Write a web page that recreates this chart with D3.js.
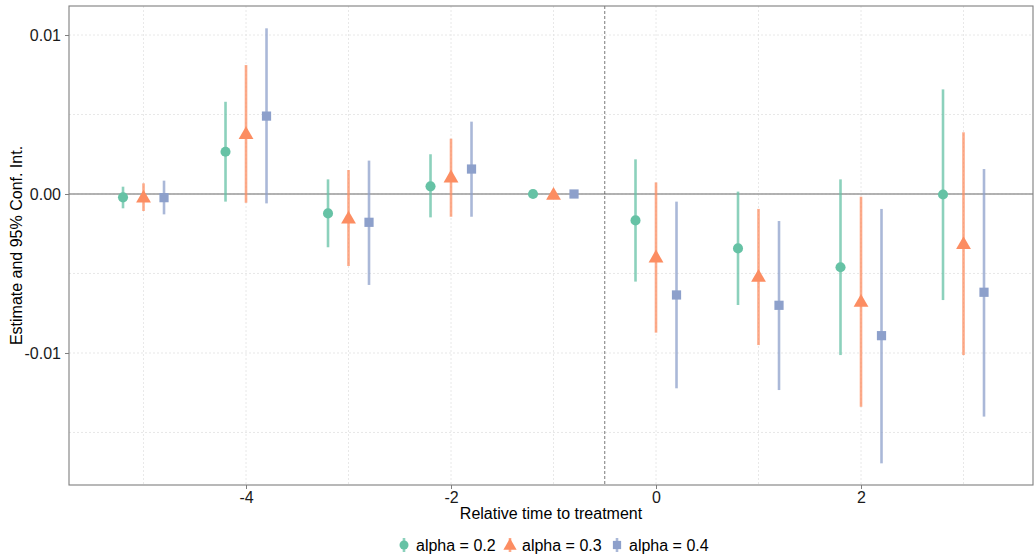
<!DOCTYPE html>
<html><head><meta charset="utf-8">
<script src="https://cdn.jsdelivr.net/npm/d3@7"></script>
<style>body{margin:0;background:#fff}svg{display:block;font-family:"Liberation Sans",Arial,sans-serif}</style>
</head><body><svg id="c" width="1034" height="554"></svg>
<script>
const times = [-5, -4, -3, -2, -1, 0, 1, 2, 3];
const seriesNames = ["alpha = 0.2", "alpha = 0.3", "alpha = 0.4"];
const est02 = [-0.00021, 0.00266, -0.00122, 0.00048, 0, -0.00166, -0.00342, -0.00461, -0.00003];
const lo02  = [-0.0009, -0.00048, -0.00335, -0.00147, 0, -0.00551, -0.00698, -0.01013, -0.00667];
const hi02  = [0.00046, 0.0058, 0.00092, 0.0025, 0, 0.00218, 0.00015, 0.00092, 0.00658];
const est03 = [-0.00017, 0.00382, -0.00149, 0.00109, 0, -0.00394, -0.00516, -0.00673, -0.0031];
const lo03  = [-0.00107, -0.00055, -0.00453, -0.00143, 0, -0.00872, -0.0095, -0.01338, -0.01013];
const hi03  = [0.00067, 0.00811, 0.00151, 0.00348, 0, 0.00073, -0.00094, -0.00017, 0.00388];
const est04 = [-0.00023, 0.0049, -0.00178, 0.00157, 0, -0.00635, -0.007, -0.00891, -0.00618];
const lo04  = [-0.00128, -0.00059, -0.00572, -0.00143, 0, -0.01222, -0.01233, -0.01694, -0.014];
const hi04  = [0.00084, 0.01042, 0.0021, 0.00455, 0, -0.00048, -0.0017, -0.00094, 0.00157];
const xTicks = [-4, -2, 0, 2];
const xTickLabels = ["-4", "-2", "0", "2"];
const xMinor = [-5, -3, -1, 1, 3];
const yTicks = [0.01, 0, -0.01];
const yTickLabels = ["0.01", "0.00", "-0.01"];
const yMinor = [0.005, -0.005, -0.015];

const colors = ["#66C2A5", "#FC8D62", "#8DA0CB"];
const shapes = [d3.symbolCircle, d3.symbolTriangle, d3.symbolSquare];
const symSizes = [80, 95, 85];
const offsets = [-0.2, 0, 0.2];

const series = [
  {name: seriesNames[0], est: est02, lo: lo02, hi: hi02},
  {name: seriesNames[1], est: est03, lo: lo03, hi: hi03},
  {name: seriesNames[2], est: est04, lo: lo04, hi: hi04}
];

const svg = d3.select("#c");
const L = 69, R = 1033, T = 6, B = 485;
const FS = 16;
const x = d3.scaleLinear().domain([-5.727, 3.678]).range([L, R]);
const y = d3.scaleLinear().domain([0.011824, -0.018302]).range([T, B]);

const g = svg.append("g");
// grid
g.selectAll(".gy").data(yTicks.concat(yMinor)).join("line")
  .attr("x1", L).attr("x2", R).attr("y1", d => y(d)).attr("y2", d => y(d))
  .attr("stroke", "#e2e2e2").attr("stroke-width", 0.8).attr("stroke-dasharray", "2,2");
g.selectAll(".gx").data(xTicks.concat(xMinor)).join("line")
  .attr("y1", T).attr("y2", B).attr("x1", d => x(d)).attr("x2", d => x(d))
  .attr("stroke", "#e2e2e2").attr("stroke-width", 0.8).attr("stroke-dasharray", "2,2");

// zero line
g.append("line").attr("x1", L).attr("x2", R).attr("y1", y(0)).attr("y2", y(0))
  .attr("stroke", "#9a9a9a").attr("stroke-width", 1.6);
// vertical dashed at -0.5
g.append("line").attr("x1", x(-0.5)).attr("x2", x(-0.5)).attr("y1", T).attr("y2", B)
  .attr("stroke", "#555").attr("stroke-width", 0.8).attr("stroke-dasharray", "3,2");

// series
series.forEach((s, i) => {
  const sg = g.append("g");
  const pts = times.map((t, j) => ({t, est: s.est[j], lo: s.lo[j], hi: s.hi[j]}));
  sg.selectAll("line").data(pts.filter(p => p.hi !== p.lo)).join("line")
    .attr("x1", d => x(d.t + offsets[i])).attr("x2", d => x(d.t + offsets[i]))
    .attr("y1", d => y(d.lo)).attr("y2", d => y(d.hi))
    .attr("stroke", colors[i]).attr("stroke-opacity", 0.75).attr("stroke-width", 2.6);
  sg.selectAll("path").data(pts).join("path")
    .attr("d", d3.symbol().type(shapes[i]).size(symSizes[i]))
    .attr("transform", d => `translate(${x(d.t + offsets[i])},${y(d.est) + (i === 1 ? 1.5 : 0)})`)
    .attr("fill", colors[i]);
});

// panel border
svg.append("rect").attr("x", L).attr("y", T).attr("width", R - L).attr("height", B - T)
  .attr("fill", "none").attr("stroke", "#7f7f7f").attr("stroke-width", 1.1);

// axes
const yAxis = d3.axisLeft(y).tickValues(yTicks).tickFormat((d, i) => yTickLabels[i]).tickSize(4).tickPadding(4);
const ya = svg.append("g").attr("transform", `translate(${L},0)`).call(yAxis);
ya.select(".domain").remove();
ya.selectAll(".tick line").attr("stroke", "#7f7f7f");
ya.selectAll("text").attr("font-size", FS).attr("fill", "#1a1a1a").attr("font-family", "Liberation Sans, Arial, sans-serif");

const xAxis = d3.axisBottom(x).tickValues(xTicks).tickFormat((d, i) => xTickLabels[i]).tickSize(4).tickPadding(3);
const xa = svg.append("g").attr("transform", `translate(0,${B})`).call(xAxis);
xa.select(".domain").remove();
xa.selectAll(".tick line").attr("stroke", "#7f7f7f");
xa.selectAll("text").attr("font-size", FS).attr("fill", "#1a1a1a").attr("font-family", "Liberation Sans, Arial, sans-serif");

// axis titles
svg.append("text").attr("x", (L + R) / 2).attr("y", 519).attr("text-anchor", "middle")
  .attr("font-size", FS).attr("fill", "#000").text("Relative time to treatment");
svg.append("text").attr("transform", `translate(22,${(T + B) / 2}) rotate(-90)`).attr("text-anchor", "middle")
  .attr("font-size", FS).attr("fill", "#000").text("Estimate and 95% Conf. Int.");

// legend
const legX = [404, 510, 617];
const lg = svg.append("g");
series.forEach((s, i) => {
  const cx = legX[i], cy = 545;
  lg.append("line").attr("x1", cx).attr("x2", cx).attr("y1", cy - 7).attr("y2", cy + 7)
    .attr("stroke", colors[i]).attr("stroke-opacity", 0.75).attr("stroke-width", 2.6);
  lg.append("path").attr("d", d3.symbol().type(shapes[i]).size(symSizes[i] * 0.8)())
    .attr("transform", `translate(${cx},${cy + (i === 1 ? 1 : 0)})`).attr("fill", colors[i]);
  lg.append("text").attr("x", cx + 12).attr("y", cy + 6).attr("font-size", FS).attr("fill", "#000").text(s.name);
});
</script></body></html>
